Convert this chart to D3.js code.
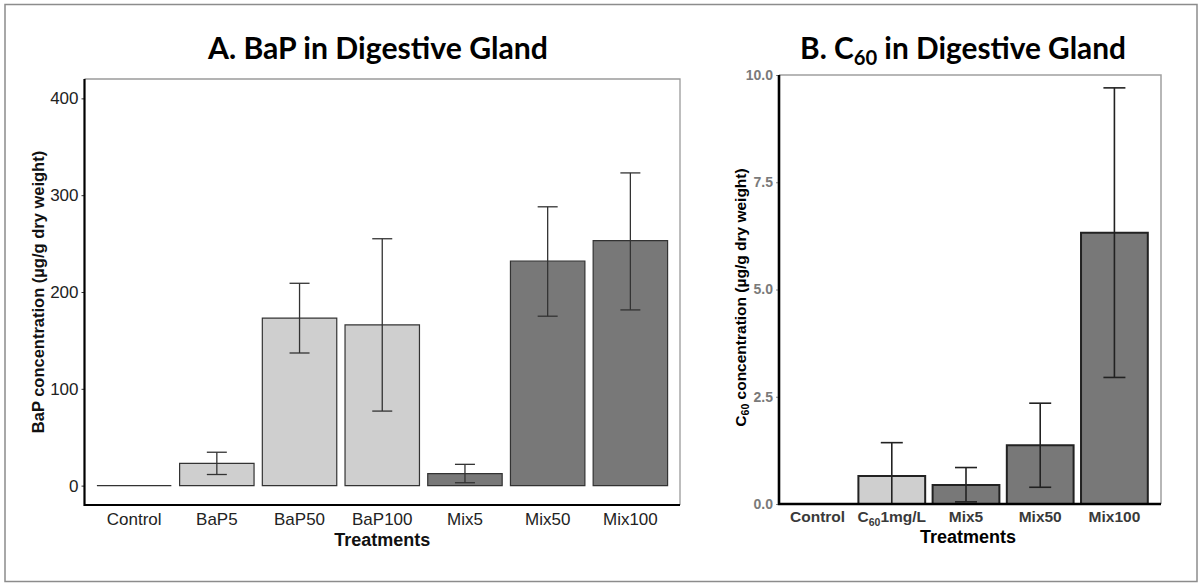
<!DOCTYPE html>
<html>
<head>
<meta charset="utf-8">
<script src="https://cdn.jsdelivr.net/npm/d3@7"></script>
<style>
  html, body { margin: 0; padding: 0; background: #fff; }
  svg { display: block; }
</style>
</head>
<body>
<svg id="chart" width="1203" height="587"></svg>
<script>
// ---------- Panel A data : BaP in digestive gland ----------
const catsA  = ["Control", "BaP5", "BaP50", "BaP100", "Mix5", "Mix50", "Mix100"];
const groupA = ["Control", "BaP", "BaP", "BaP", "Mix", "Mix", "Mix"];
const meanA  = [0, 23, 173, 166, 12.5, 232, 253];
const lowA   = [0, 11.5, 137, 77, 3, 175, 181.5];
const highA  = [0, 34.5, 209, 255, 22, 288, 323];
const ticksA = [0, 100, 200, 300, 400];

// ---------- Panel B data : C60 in digestive gland ----------
const catsB  = ["Control", "C60 1mg/L", "Mix5", "Mix50", "Mix100"];
const groupB = ["Control", "C60", "Mix", "Mix", "Mix"];
const meanB  = [0, 0.65, 0.44, 1.37, 6.32];
const lowB   = [0, -0.12, 0.05, 0.39, 2.95];
const highB  = [0, 1.43, 0.85, 2.35, 9.7];
const ticksB = [0, 2.5, 5, 7.5, 10];

const fillOf = g => (g === "Mix" ? "#787878" : "#cfcfcf");
const barPath = (x, w, y0, y1) => `M${x},${y0}H${x + w}V${y1}H${x}Z`;

const svg = d3.select("#chart");

// outer frame
svg.append("rect").attr("x", 5).attr("y", 4.5).attr("width", 1192).attr("height", 577)
  .attr("fill", "none").attr("stroke", "#8c8c8c").attr("stroke-width", 1.5);

// ================= Panel A =================
const A = { left: 84.5, right: 680, top: 79, bottom: 505 };
const xA = d3.scaleBand().domain(catsA).range([A.left, A.right]).paddingInner(0.1).paddingOuter(0.15);
const yA = d3.scaleLinear().domain([-20, 420]).range([A.bottom, A.top]);
const gA = svg.append("g");

gA.append("path").attr("d", `M${A.left},${A.top}H${A.right}V${A.bottom}`)
  .attr("fill", "none").attr("stroke", "#9a9a9a").attr("stroke-width", 1.3);

const dataA = catsA.map((c, i) => ({ c, g: groupA[i], m: meanA[i], lo: lowA[i], hi: highA[i] }));
gA.selectAll("path.bar").data(dataA).join("path").attr("class", "bar")
  .attr("d", d => barPath(xA(d.c), xA.bandwidth(), yA(0), yA(d.m)))
  .attr("fill", d => fillOf(d.g)).attr("stroke", "#333").attr("stroke-width", 1.2);

const capA = 10;
const ebA = gA.selectAll("g.eb").data(dataA.filter(d => d.hi > d.lo)).join("g").attr("class", "eb")
  .attr("stroke", "#333").attr("stroke-width", 1.3).attr("fill", "none");
const cxA = d => xA(d.c) + xA.bandwidth() / 2;
ebA.append("line").attr("x1", cxA).attr("x2", cxA).attr("y1", d => yA(d.lo)).attr("y2", d => yA(d.hi));
ebA.append("line").attr("x1", d => cxA(d) - capA).attr("x2", d => cxA(d) + capA)
  .attr("y1", d => yA(d.hi)).attr("y2", d => yA(d.hi));
ebA.append("line").attr("x1", d => cxA(d) - capA).attr("x2", d => cxA(d) + capA)
  .attr("y1", d => yA(d.lo)).attr("y2", d => yA(d.lo));

const axA = gA.append("g").attr("transform", `translate(${A.left},0)`)
  .call(d3.axisLeft(yA).tickValues(ticksA).tickSize(3).tickPadding(3).tickFormat(d3.format("d")));
axA.select(".domain").remove();
axA.selectAll(".tick line").attr("stroke", "#333");
axA.selectAll(".tick text").attr("font-family", "Liberation Sans, Arial, sans-serif")
  .attr("font-size", 17).attr("fill", "#222");
const axAx = gA.append("g").attr("transform", `translate(0,${A.bottom})`)
  .call(d3.axisBottom(xA).tickSize(0).tickPadding(8));
axAx.select(".domain").remove();
axAx.selectAll(".tick text").attr("font-family", "Liberation Sans, Arial, sans-serif")
  .attr("font-size", 17).attr("fill", "#222");
gA.append("path").attr("d", `M${A.left},${A.top}V${A.bottom}H${A.right}`)
  .attr("fill", "none").attr("stroke", "#000").attr("stroke-width", 2.2);

gA.append("text").attr("x", (A.left + A.right) / 2).attr("y", 546).attr("text-anchor", "middle")
  .attr("font-family", "Liberation Sans, Arial, sans-serif").attr("font-weight", "bold")
  .attr("font-size", 18).attr("fill", "#111").text("Treatments");
gA.append("text").attr("transform", `translate(44,${(A.top + A.bottom) / 2}) rotate(-90)`)
  .attr("text-anchor", "middle")
  .attr("font-family", "Liberation Sans, Arial, sans-serif").attr("font-weight", "bold")
  .attr("font-size", 16.5).attr("fill", "#111").text("BaP concentration (µg/g dry weight)");
gA.append("text").attr("x", 378).attr("y", 59).attr("text-anchor", "middle")
  .attr("font-family", "Lato, sans-serif").attr("font-weight", "bold").attr("font-size", 31)
  .attr("textLength", 340).attr("lengthAdjust", "spacingAndGlyphs")
  .attr("fill", "#000").text("A. BaP in Digestive Gland");

// ================= Panel B =================
const B = { left: 779, right: 1161, top: 75, bottom: 504 };
const xB = d3.scaleBand().domain(catsB).range([B.left, 1153]).paddingInner(0.1).paddingOuter(0.07);
const yB = d3.scaleLinear().domain([0, 10]).range([B.bottom, B.top]);
const gB = svg.append("g");

svg.append("defs").append("clipPath").attr("id", "clipB").append("rect")
  .attr("x", B.left).attr("y", B.top - 5).attr("width", B.right - B.left).attr("height", B.bottom - B.top + 5);

gB.append("path").attr("d", `M${B.left},${B.top}H${B.right}V${B.bottom}`)
  .attr("fill", "none").attr("stroke", "#a0a0a0").attr("stroke-width", 1.5);

const dataB = catsB.map((c, i) => ({ c, g: groupB[i], m: meanB[i], lo: lowB[i], hi: highB[i] }));
const plotB = gB.append("g").attr("clip-path", "url(#clipB)");
plotB.selectAll("path.bar").data(dataB.filter(d => d.m > 0)).join("path").attr("class", "bar")
  .attr("d", d => barPath(xB(d.c), xB.bandwidth(), yB(0), yB(d.m)))
  .attr("fill", d => fillOf(d.g)).attr("stroke", "#222").attr("stroke-width", 2);

const capB = 11;
const cxB = d => xB(d.c) + xB.bandwidth() / 2;
const ebB = plotB.selectAll("g.eb").data(dataB.filter(d => d.hi > d.lo)).join("g").attr("class", "eb")
  .attr("stroke", "#222").attr("stroke-width", 1.6).attr("fill", "none");
ebB.append("line").attr("x1", cxB).attr("x2", cxB).attr("y1", d => yB(d.lo)).attr("y2", d => yB(d.hi));
ebB.append("line").attr("x1", d => cxB(d) - capB).attr("x2", d => cxB(d) + capB)
  .attr("y1", d => yB(d.hi)).attr("y2", d => yB(d.hi));
ebB.append("line").attr("x1", d => cxB(d) - capB).attr("x2", d => cxB(d) + capB)
  .attr("y1", d => yB(d.lo)).attr("y2", d => yB(d.lo));

const axB = gB.append("g").attr("transform", `translate(${B.left},0)`)
  .call(d3.axisLeft(yB).tickValues(ticksB).tickSize(3).tickPadding(3).tickFormat(d3.format(".1f")));
axB.select(".domain").remove();
axB.selectAll(".tick line").attr("stroke", "#888");
axB.selectAll(".tick text").attr("font-family", "Liberation Sans, Arial, sans-serif")
  .attr("font-weight", "bold").attr("font-size", 14).attr("fill", "#7a7a7a");

const axBx = gB.append("g").attr("transform", `translate(0,${B.bottom})`)
  .call(d3.axisBottom(xB).tickSize(0).tickPadding(7));
axBx.select(".domain").remove();
axBx.selectAll(".tick text").attr("font-family", "Liberation Sans, Arial, sans-serif")
  .attr("font-weight", "bold").attr("font-size", 15.5).attr("fill", "#3a3a3a")
  .each(function (d) {
    if (d.startsWith("C60")) {
      const t = d3.select(this).text("");
      t.append("tspan").text("C");
      t.append("tspan").attr("font-size", 10.5).attr("dy", 4).text("60");
      t.append("tspan").attr("dy", -4).text(d.slice(4));
    }
  });

gB.append("path").attr("d", `M${B.left},${B.top}V${B.bottom}H${B.right}`)
  .attr("fill", "none").attr("stroke", "#000").attr("stroke-width", 2.6);

gB.append("text").attr("x", 968).attr("y", 543).attr("text-anchor", "middle")
  .attr("font-family", "Liberation Sans, Arial, sans-serif").attr("font-weight", "bold")
  .attr("font-size", 18).attr("fill", "#000").text("Treatments");

const ylB = gB.append("text").attr("transform", `translate(746,${(B.top + B.bottom) / 2 + 8}) rotate(-90)`)
  .attr("text-anchor", "middle")
  .attr("font-family", "Liberation Sans, Arial, sans-serif").attr("font-weight", "bold")
  .attr("font-size", 15.5).attr("fill", "#000");
ylB.append("tspan").text("C");
ylB.append("tspan").attr("font-size", 10.5).attr("dy", 3).text("60");
ylB.append("tspan").attr("dy", -3).text(" concentration (µg/g dry weight)");

const tB = gB.append("text").attr("x", 963).attr("y", 59).attr("text-anchor", "middle")
  .attr("font-family", "Lato, sans-serif").attr("font-weight", "bold").attr("font-size", 31)
  .attr("textLength", 326).attr("lengthAdjust", "spacingAndGlyphs")
  .attr("fill", "#000");
tB.append("tspan").text("B. C");
tB.append("tspan").attr("font-size", 21).attr("dy", 6).text("60");
tB.append("tspan").attr("dy", -6).text(" in Digestive Gland");
</script>
</body>
</html>
